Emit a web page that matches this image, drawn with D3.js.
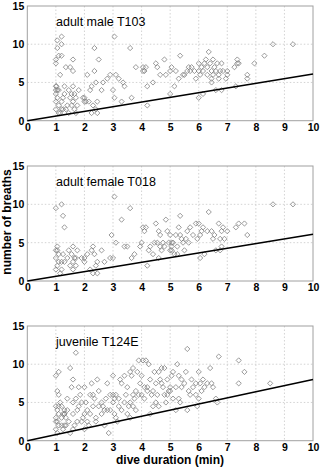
<!DOCTYPE html>
<html>
<head>
<meta charset="utf-8">
<script src="https://cdn.jsdelivr.net/npm/d3@7"></script>
<style>
  body { margin: 0; background: #fff; }
  svg { display: block; }
</style>
</head>
<body>
<div id="chart"></div>
<script>
// Panel titles and the slope of the lower-bound line (breaths per minute).
const panelNames = ["adult male T103", "adult female T018", "juvenile T124E"];
const lineSlopes = [0.61, 0.61, 0.80];

const xTicks = [0, 1, 2, 3, 4, 5, 6, 7, 8, 9, 10];
const yTicks = [0, 5, 10, 15];

// Dives: [duration (min), number of breaths].
const maleDives = [
  [1.0,7.5],[1.0,8],[1.05,9.5],[1.05,10.5],[1.1,8.5],[1.15,6],[1.2,11],[1.2,10],[1.2,8.5],
  [1.0,4.5],[1.02,4.5],[1.0,4],[1.05,4],[1.1,4],[1.0,3.5],[1.05,3],[1.0,2.5],[1.1,2],[1.0,1.5],
  [1.15,1],[1.2,2.5],[1.2,1.5],[1.25,1.5],[1.1,1],[1.3,3.5],[1.3,4.5],[1.35,7],[1.4,2],[1.45,4],
  [1.5,7],[1.5,3],[1.55,2],[1.6,6.5],[1.6,4.5],[1.6,8],[1.6,2.5],[1.65,1.5],[1.7,3],[1.7,1],
  [1.75,2],[1.8,4],[1.65,3.5],[1.55,3.5],[1.45,1],[1.35,1.5],[1.25,3],
  [1.95,3],[2.0,2.5],[2.0,3],[2.05,2.5],[2.1,6],[2.15,2.5],[2.2,4],[2.25,1],[2.25,4.5],[2.3,2],
  [2.35,9.5],[2.35,6.5],[2.4,5],[2.4,1.5],[2.45,2.5],[2.45,1],[2.5,8],[2.6,4],[2.65,5],[2.8,5.5],
  [2.9,6],[3.0,4],[3.05,11],[3.05,3],[3.1,6],[3.2,5.5],[3.3,2.5],[3.35,5],[3.4,4.5],[3.65,3],
  [3.6,9.5],[3.8,7],[4.05,7],[4.1,6.5],[4.15,7],[4.2,4.5],[4.2,2],[4.4,5],[4.5,7.5],[4.55,7],
  [4.65,6],[4.8,8],[4.85,6],[5.0,3.5],[5.0,6.5],[5.05,7],[5.15,4.5],[5.2,6.5],[5.3,5.5],[5.35,8.5],
  [5.5,6],[5.6,6.5],[5.65,7],[5.7,6.5],[5.75,7],[5.85,6.5],[5.9,5.5],[6.0,7.5],[6.0,3],[6.05,6],
  [6.15,6.5],[6.15,3.5],[6.2,7.5],[6.25,8],[6.3,6],[6.35,9],[6.4,7.5],[6.45,6.5],[6.45,5.5],[6.5,8],
  [6.5,6],[6.55,7],[6.6,4],[6.6,6.5],[6.65,7.5],[6.7,5.5],[6.75,6.5],[6.8,7.5],[6.8,4],[6.85,6.5],
  [6.95,5.5],[7.0,6.5],[7.0,6],[7.25,7],[7.3,4.5],[7.35,8],[7.4,7.5],[7.7,6],[7.7,5.5],[7.95,7.5],
  [8.3,8.5],[8.6,10],[9.3,10],[6.1,7],[6.3,7],[6.0,6.5],[5.45,6],[6.45,5],[6.7,6],[7.35,7.5],[4.05,6.5]
];
const femaleDives = [
  [1.0,9.5],[1.2,10],[1.25,8.5],[1.3,7],[1.0,4],[1.05,4.5],[1.05,4],[1.1,3.5],[1.0,3],[1.1,2.5],
  [1.05,2],[1.0,1.5],[1.15,1],[1.2,2.5],[1.2,1.5],[1.25,3.5],[1.3,2.5],[1.4,3],[1.45,4],[1.5,2],
  [1.55,3.5],[1.6,4.5],[1.6,2.5],[1.6,1.5],[1.65,3],[1.7,2],[1.75,4],[1.7,3],[1.9,3],[2.0,2.5],
  [2.0,3],[2.1,3.5],[2.2,1.5],[2.25,4],[2.3,4.5],[2.3,1],[2.35,3.5],[2.4,2],[2.45,1],[2.45,2.5],
  [2.6,4],[2.7,2.5],[2.9,3],[2.95,6],[3.0,3],[3.05,11],[3.1,5],[3.3,8],[3.4,4.5],[3.5,4.5],
  [3.6,9.5],[3.65,3],[3.75,3.5],[3.95,4.5],[4.0,5],[4.05,7],[4.1,6.5],[4.15,7],[4.2,2],[4.25,4],
  [4.3,4.5],[4.45,5],[4.5,7.5],[4.55,5],[4.6,6.5],[4.65,6],[4.65,4.5],[4.7,4],[4.75,5],[4.8,4.5],
  [4.85,8],[4.9,6.5],[4.95,5],[5.0,6],[5.0,4],[5.05,5],[5.05,4.5],[5.05,4],[5.1,5],[5.15,3.5],
  [5.2,6],[5.25,4.5],[5.3,7],[5.35,8.5],[5.35,6],[5.4,5.5],[5.45,5],[5.5,4],[5.6,6.5],[5.65,5],
  [5.7,7],[5.8,6],[5.9,7.5],[5.95,5.5],[6.0,7.5],[6.05,3],[6.05,6],[6.1,6.5],[6.15,7],[6.2,3.5],
  [6.3,6.5],[6.35,9],[6.45,6.5],[6.55,6],[6.6,4],[6.7,7.5],[6.75,5.5],[6.8,6.5],[6.85,7],[6.9,5.5],
  [7.0,6.5],[7.3,7],[7.4,7.5],[7.6,7.5],[7.7,6],[8.6,10],[9.3,10],[4.4,3.5],[4.6,3],[5.25,3.5],
  [5.55,5.5],[6.5,5.5],[6.75,4],[6.8,4.5]
];
const juvenileDives = [
  [1.0,8.5],[1.1,9],[1.05,6.5],[1.1,6],[1.0,4.5],[1.05,4],[1.1,3.5],[1.0,3],[1.05,2.5],[1.1,2],
  [1.0,1.5],[1.05,1],[1.15,5],[1.2,4.5],[1.2,2],[1.25,1.5],[1.3,3.5],[1.3,2],[1.35,3],[1.4,4],
  [1.45,2.5],[1.5,1],[1.5,9.5],[1.55,7],[1.6,8],[1.6,5],[1.6,3.5],[1.65,2],[1.7,11.5],[1.7,5.5],
  [1.75,4],[1.8,7],[1.85,6],[1.9,2.5],[1.95,3],[2.0,7],[2.0,1.5],[2.05,5],[2.1,4],[2.15,2],
  [2.2,3.5],[2.25,7.5],[2.3,6],[2.35,5.5],[2.4,3],[2.45,8],[2.5,4.5],[2.6,5],[2.65,4.5],[2.7,2],
  [2.75,5.5],[2.8,7.5],[2.85,1],[2.9,6],[2.9,4],[3.0,8.5],[3.0,5],[3.05,3.5],[3.1,6],[3.15,2.5],
  [3.2,4.5],[3.25,8],[3.3,7.5],[3.4,5],[3.45,6],[3.5,3.5],[3.5,7],[3.55,4.5],[3.6,9],[3.65,8.5],
  [3.7,9.5],[3.7,6],[3.75,5.5],[3.8,4],[3.85,9],[3.9,6],[3.95,7.5],[4.0,8.5],[4.05,10.5],[4.1,7],
  [4.1,5.5],[4.15,10.5],[4.2,6.5],[4.25,10],[4.3,8],[4.35,6],[4.4,4.5],[4.45,9],[4.5,7.5],[4.55,6],
  [4.6,9],[4.65,8],[4.7,9.5],[4.75,7],[4.8,6],[4.85,5],[4.9,8],[4.95,6.5],[5.0,7],[5.05,8.5],
  [5.1,9],[5.2,4],[5.25,10],[5.3,8.5],[5.35,5],[5.4,7],[5.5,7.5],[5.55,9],[5.6,12],[5.6,4],
  [5.65,6.5],[5.7,6],[5.75,8],[5.8,7],[5.95,4.5],[6.0,9],[6.05,7.5],[6.1,6.5],[6.15,8],[6.3,7.5],
  [6.4,9.5],[6.45,7.5],[6.6,5.5],[6.65,5],[6.7,11],[7.4,10.5],[7.4,7.5],[7.6,9],[8.5,7.5],[5.9,6],
  [6.5,7],[5.3,5.5],[5.0,6.5],[4.7,7.5],[4.2,7],[3.6,3],[3.3,4],[3.0,6],[2.8,4],[2.4,2.5],
  [2.2,6],[1.8,4.5],[1.4,5.5],[1.2,3],[1.3,4],[1.0,2.5],[1.6,1.5],[2.0,3.5],[2.6,3.5],[3.8,6.5],
  [4.3,3.5],[4.6,4.5],[3.4,8.5],[3.9,10.5],[1.25,3.5],[1.3,3.5],[1.35,2],[1.1,4.5],[1.9,5],[2.1,2.5],
  [2.5,6.5],[2.7,4],[3.1,3],[3.2,5.5],[3.6,5],[3.7,4.5],[4.0,6],[4.4,6.5],[4.5,5],[4.8,9.5],
  [4.9,6],[5.1,5.5],[5.2,7],[5.4,8],[5.9,7.5],[6.2,7],[6.0,5.5],[3.05,5.5],[2.3,4.5],[1.75,2.5]
];

const panels = [
  { name: panelNames[0], dives: maleDives, slope: lineSlopes[0], top: 6, bottom: 120.7 },
  { name: panelNames[1], dives: femaleDives, slope: lineSlopes[1], top: 166, bottom: 281 },
  { name: panelNames[2], dives: juvenileDives, slope: lineSlopes[2], top: 326, bottom: 440.7 }
];

const w = 321, h = 474;
const left = 27.3, right = 313;
const font = "Arial, 'Liberation Sans', sans-serif";

const svg = d3.select("#chart").append("svg")
  .attr("width", w)
  .attr("height", h);

const x = d3.scaleLinear().domain([0, 10]).range([left, right]);

// Square diamond like the MATLAB marker.
const diamond = "M0,-2.6L2.6,0L0,2.6L-2.6,0Z";

panels.forEach(p => {
  const y = d3.scaleLinear().domain([0, 15]).range([p.bottom, p.top]);
  const g = svg.append("g");

  // dotted grid
  g.selectAll(".gx").data(xTicks.slice(1, -1)).enter().append("line")
    .attr("x1", d => x(d)).attr("x2", d => x(d))
    .attr("y1", p.top).attr("y2", p.bottom)
    .attr("stroke", "#c8c8c8").attr("stroke-width", 0.8).attr("stroke-dasharray", "1.5,2");
  g.selectAll(".gy").data(yTicks.slice(1, -1)).enter().append("line")
    .attr("x1", left).attr("x2", right)
    .attr("y1", d => y(d)).attr("y2", d => y(d))
    .attr("stroke", "#c8c8c8").attr("stroke-width", 0.8).attr("stroke-dasharray", "1.5,2");

  // frame
  g.append("rect")
    .attr("x", left).attr("y", p.top)
    .attr("width", right - left).attr("height", p.bottom - p.top)
    .attr("fill", "none").attr("stroke", "#a0a0a0").attr("stroke-width", 1);

  // axes
  const xAxis = d3.axisBottom(x).tickValues(xTicks).tickSize(0).tickPadding(3).tickFormat(d3.format("d"));
  const yAxis = d3.axisLeft(y).tickValues(yTicks).tickSize(0).tickPadding(3);
  [g.append("g").attr("transform", "translate(0," + p.bottom + ")").call(xAxis),
   g.append("g").attr("transform", "translate(" + left + ",0)").call(yAxis)]
    .forEach(a => {
      a.select(".domain").remove();
      a.selectAll("text")
        .attr("font-family", font).attr("font-size", 10.5)
        .attr("font-weight", "bold").attr("fill", "#000");
    });

  // dives
  g.selectAll(".dot").data(p.dives).enter().append("path")
    .attr("d", diamond)
    .attr("transform", d => "translate(" + x(d[0]) + "," + y(d[1]) + ")")
    .attr("fill", "none").attr("stroke", "#808080").attr("stroke-width", 0.8);

  // lower-bound line
  g.append("line")
    .attr("x1", x(0)).attr("y1", y(0))
    .attr("x2", x(10)).attr("y2", y(10 * p.slope))
    .attr("stroke", "#000").attr("stroke-width", 1.6);

  g.append("text")
    .attr("x", 56).attr("y", p.top + 20)
    .attr("font-family", font).attr("font-size", 12.5).attr("fill", "#000")
    .text(p.name);
});

svg.append("text")
  .attr("transform", "translate(11,222) rotate(-90)")
  .attr("text-anchor", "middle")
  .attr("font-family", font).attr("font-size", 12).attr("font-weight", "bold")
  .text("number of breaths");

svg.append("text")
  .attr("x", 170).attr("y", 464)
  .attr("text-anchor", "middle")
  .attr("font-family", font).attr("font-size", 12).attr("font-weight", "bold")
  .text("dive duration (min)");
</script>
</body>
</html>
